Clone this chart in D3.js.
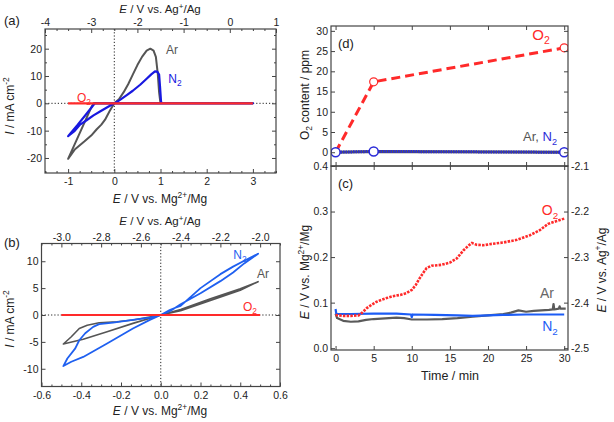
<!DOCTYPE html>
<html><head><meta charset="utf-8">
<script src="https://cdn.jsdelivr.net/npm/d3@7"></script>
<style>
body{margin:0;background:#fff;}
text{font-family:"Liberation Sans",Arial,Helvetica,sans-serif;}
</style></head><body>
<svg id="chart" width="614" height="422" xmlns="http://www.w3.org/2000/svg"></svg>
<script>
// ---------------- DATA ----------------
// Panel (a): CV, E vs Mg2+/Mg (V), I (mA cm-2)
const cvA_Ar = [[0,0],[0.1,1.5],[0.2,4],[0.3,7],[0.4,10.5],[0.5,14],[0.6,17],[0.7,19.3],[0.78,20],[0.85,19.3],[0.9,17],[0.94,11],[0.97,4],[1.0,0],[3.0,0],[-0.45,0],[-0.5,-1.6],[-0.6,-5.3],[-0.8,-12.8],[-1.0,-20.3],[-0.85,-16.8],[-0.65,-14],[-0.5,-11.8],[-0.38,-9.5],[-0.28,-7.8],[-0.2,-6],[-0.1,-2.8],[0,0]];
const cvA_N2 = [[0,0],[0.1,1],[0.27,3],[0.4,4.6],[0.56,6.8],[0.7,9],[0.8,10.6],[0.88,11.7],[0.93,11.6],[0.97,10.5],[0.99,6],[1.01,1],[1.02,0],[3.0,0],[-0.42,0],[-0.46,-0.8],[-0.6,-3.8],[-0.8,-8],[-1.0,-12],[-0.87,-10.3],[-0.74,-7.8],[-0.6,-6.2],[-0.45,-4.4],[-0.3,-2.9],[-0.17,-1.6],[0,0]];
const cvA_O2 = [[-1.0,0],[3.0,0]];
// Panel (b)
const cvB_N2 = [[0,0],[0.045,0.9],[0.07,1.3],[0.1,1.7],[0.2,5.0],[0.3,7.6],[0.364,9.0],[0.42,10.1],[0.49,11.4],[0.42,9.6],[0.364,7.9],[0.3,6.3],[0.2,4.05],[0.1,2.0],[0.05,0.8],[0,0],[-0.055,-0.5],[-0.14,-0.9],[-0.24,-1.4],[-0.31,-1.7],[-0.34,-2.2],[-0.38,-3.4],[-0.41,-4.7],[-0.43,-6.2],[-0.47,-8.1],[-0.49,-9.5],[-0.45,-8.7],[-0.39,-7.8],[-0.27,-5.3],[-0.14,-2.5],[-0.055,-0.9],[0,0]];
const cvB_Ar = [[0,0],[0.1,1.0],[0.25,3.0],[0.4,4.9],[0.49,6.2],[0.4,4.6],[0.25,2.7],[0.1,0.8],[0,0],[-0.14,-0.93],[-0.22,-1.25],[-0.31,-1.43],[-0.37,-1.9],[-0.41,-2.5],[-0.45,-4.05],[-0.49,-5.4],[-0.39,-4.5],[-0.27,-3.1],[-0.14,-1.56],[0,0]];
const cvB_O2 = [[-0.5,0],[0.5,0]];
// Panel (d): O2 content (ppm) vs time (min)
const dTimes = [0,5,30];
const dO2ppm = [0,17.4,25.8];
const dArN2ppm = [0,0.2,0];
// Panel (c): OCP (V vs Mg2+/Mg) vs time (min)
const cO2 = [[0,0.073],[0.5,0.072],[1,0.071],[2,0.071],[3,0.072],[3.5,0.078],[4.1,0.088],[4.8,0.096],[5.4,0.102],[6,0.106],[6.7,0.110],[7.5,0.114],[8.5,0.117],[9.3,0.121],[10,0.128],[10.5,0.138],[10.9,0.150],[11.4,0.163],[11.95,0.176],[12.6,0.181],[13.9,0.183],[15,0.188],[15.9,0.197],[16.8,0.215],[17.5,0.226],[17.9,0.231],[18.5,0.227],[19.4,0.226],[20.5,0.229],[22,0.232],[23.8,0.238],[25.5,0.248],[26.8,0.259],[27.9,0.273],[29,0.279],[30.1,0.285]];
const cN2 = [[0,0.086],[0.1,0.075],[2,0.075],[5,0.076],[8,0.076],[9.9,0.074],[10,0.068],[10.1,0.074],[13,0.073],[16,0.072],[18,0.071],[20,0.072],[22,0.073],[25,0.074],[28,0.074],[30,0.074]];
const cAr = [[0,0.076],[0.2,0.066],[1,0.060],[2,0.058],[3,0.059],[4,0.062],[5,0.064],[6,0.065],[7,0.066],[8,0.067],[9,0.066],[10,0.063],[12,0.063],[14,0.064],[16,0.066],[18,0.069],[20,0.072],[22,0.075],[23,0.078],[24,0.083],[25,0.080],[26,0.082],[27,0.083],[28,0.084],[28.5,0.085],[28.6,0.097],[28.7,0.085],[29.3,0.087],[29.4,0.092],[29.5,0.087],[30.2,0.087]];
// Tick labels
const aBottomTicks = [-1,0,1,2,3];
const aTopTicks = [-4,-3,-2,-1,0,1];
const aLeftTicks = [-20,-10,0,10,20];
const bBottomTicks = [-0.6,-0.4,-0.2,0.0,0.2,0.4,0.6];
const bTopTicks = [-3.0,-2.8,-2.6,-2.4,-2.2,-2.0];
const bLeftTicks = [-10,-5,0,5,10];
const dLeftTicks = [0,5,10,15,20,25,30];
const cBottomTicks = [0,5,10,15,20,25,30];
const cLeftTicks = [0.0,0.1,0.2,0.3,0.4];
const cRightTicks = [-2.5,-2.4,-2.3,-2.2,-2.1];

// ---------------- DRAW ----------------
const svg = d3.select("#chart");
const FONT = '"Liberation Sans", Arial, Helvetica, sans-serif';
const C = {ar:"#555555", n2a:"#1818e0", n2b:"#1f60f0", n2c:"#1c5cf5", red:"#ff2a2a", frame:"#444", txt:"#222", blueD:"#2a2ad8"};

function richText(parent, x, y, parts, o){
  const fs = o.size||12;
  const t = parent.append("text").attr("x",x).attr("y",y)
    .attr("text-anchor",o.anchor||"middle").attr("font-size",fs)
    .attr("fill",o.fill||C.txt).attr("font-family",FONT);
  if(o.rotate) t.attr("transform",`rotate(${o.rotate},${x},${y})`);
  let shift=0;
  parts.forEach(p=>{
    const s=t.append("tspan").text(p.t);
    const target = p.sup? -0.38*fs : (p.sub? 0.28*fs : 0);
    const dy = target-shift; shift=target;
    if(dy!==0) s.attr("dy",dy);
    if(p.sup||p.sub) s.attr("font-size",fs*0.7);
    if(p.it) s.attr("font-style","italic");
    if(p.fill) s.attr("fill",p.fill);
  });
  return t;
}
function ticks(g, scale, orient, pos, values, o){
  o=o||{};
  const gen={bottom:d3.axisBottom,top:d3.axisTop,left:d3.axisLeft,right:d3.axisRight}[orient](scale)
    .tickValues(values).tickSize(-(o.size||4)).tickPadding(o.pad||4)
    .tickFormat(o.labels? (d,i)=>o.labels[i] : ()=> "");
  const tr=(orient==="bottom"||orient==="top")?`translate(0,${pos})`:`translate(${pos},0)`;
  const a=g.append("g").attr("transform",tr).call(gen);
  a.select(".domain").remove();
  a.selectAll("line").attr("stroke",C.frame).attr("stroke-width",1);
  a.selectAll("text").attr("font-size",o.fs||10.5).attr("fill",C.txt).attr("font-family",FONT);
  return a;
}
function frame(g,x0,x1,y0,y1){
  g.append("rect").attr("x",x0).attr("y",y0).attr("width",x1-x0).attr("height",y1-y0)
   .attr("fill","none").attr("stroke",C.frame).attr("stroke-width",1.2);
}
function clip(id,x0,x1,y0,y1){
  svg.append("clipPath").attr("id",id).append("rect").attr("x",x0).attr("y",y0).attr("width",x1-x0).attr("height",y1-y0);
}
const dec=(n)=>(d)=>d.toFixed(n);
function minorVals(lo,hi,step,majors){
  const out=[];for(let v=lo;v<=hi+1e-9;v+=step){const r=Math.round(v*1000)/1000; if(!majors.some(m=>Math.abs(m-r)<1e-6)) out.push(r);}return out;
}

// ===== Panel (a) =====
{
  const X0=45,X1=276,Y0=29,Y1=173;
  const x=d3.scaleLinear().domain([-1.5,3.5]).range([X0,X1]);
  const xt=d3.scaleLinear().domain([-4,1]).range([X0,X1]);
  const y=d3.scaleLinear().domain([-25.5,27.2]).range([Y1,Y0]);
  const g=svg.append("g");
  clip("clipA",X0,X1,Y0,Y1);
  const pg=g.append("g").attr("clip-path","url(#clipA)");
  pg.append("line").attr("x1",X0).attr("x2",X1).attr("y1",y(0)).attr("y2",y(0)).attr("stroke","#222").attr("stroke-width",1).attr("stroke-dasharray","1.2,2");
  pg.append("line").attr("x1",x(0)).attr("x2",x(0)).attr("y1",Y0).attr("y2",Y1).attr("stroke","#222").attr("stroke-width",1).attr("stroke-dasharray","1.2,2");
  const line=d3.line().x(d=>x(d[0])).y(d=>y(d[1]));
  pg.append("path").attr("d",line(cvA_Ar)).attr("fill","none").attr("stroke",C.ar).attr("stroke-width",2).attr("stroke-linejoin","round");
  pg.append("path").attr("d",line(cvA_N2)).attr("fill","none").attr("stroke",C.n2a).attr("stroke-width",2.2).attr("stroke-linejoin","round");
  pg.append("path").attr("d",line(cvA_O2)).attr("fill","none").attr("stroke",C.red).attr("stroke-width",2.2);
  frame(g,X0,X1,Y0,Y1);
  ticks(g,x,"bottom",Y1,aBottomTicks,{labels:aBottomTicks.map(String),pad:5});
  ticks(g,x,"bottom",Y1,minorVals(-1.5,3.5,0.25,aBottomTicks),{size:2});
  ticks(g,xt,"top",Y0,aTopTicks,{labels:aTopTicks.map(String),pad:3});
  ticks(g,xt,"top",Y0,minorVals(-4,1,0.25,aTopTicks),{size:2});
  ticks(g,y,"left",X0,aLeftTicks,{labels:aLeftTicks.map(String),pad:3});
  ticks(g,y,"left",X0,minorVals(-25,25,5,aLeftTicks),{size:2});
  ticks(g,y,"right",X1,aLeftTicks,{});
  ticks(g,y,"right",X1,minorVals(-25,25,5,aLeftTicks),{size:2});
  g.append("text").attr("x",4).attr("y",25).attr("font-size",13).attr("fill",C.txt).text("(a)");
  richText(g,160,13,[{t:"E",it:1},{t:" / V vs. Ag"},{t:"+",sup:1},{t:"/Ag"}],{size:11.5});
  richText(g,160,203,[{t:"E",it:1},{t:" / V vs. Mg"},{t:"2+",sup:1},{t:"/Mg"}],{size:12});
  richText(g,14,106,[{t:"I",it:1},{t:" / mA cm"},{t:"-2",sup:1}],{size:12,rotate:-90});
  richText(g,172,54,[{t:"Ar"}],{size:12,fill:C.ar});
  richText(g,175,83,[{t:"N"},{t:"2",sub:1}],{size:12,fill:C.n2a});
  richText(g,84,102,[{t:"O"},{t:"2",sub:1}],{size:12,fill:C.red});
}

// ===== Panel (b) =====
{
  const X0=41.5,X1=280,Y0=243.5,Y1=386.5;
  const x=d3.scaleLinear().domain([-0.6,0.6]).range([X0,X1]);
  const xt=d3.scaleLinear().domain([-3.1,-1.9]).range([X0,X1]);
  const y=d3.scaleLinear().domain([-13.3,13.3]).range([Y1,Y0]);
  const g=svg.append("g");
  clip("clipB",X0,X1,Y0,Y1);
  const pg=g.append("g").attr("clip-path","url(#clipB)");
  pg.append("line").attr("x1",X0).attr("x2",X1).attr("y1",y(0)).attr("y2",y(0)).attr("stroke","#222").attr("stroke-width",1).attr("stroke-dasharray","1.2,2");
  pg.append("line").attr("x1",x(0)).attr("x2",x(0)).attr("y1",Y0).attr("y2",Y1).attr("stroke","#222").attr("stroke-width",1).attr("stroke-dasharray","1.2,2");
  const line=d3.line().x(d=>x(d[0])).y(d=>y(d[1]));
  pg.append("path").attr("d",line(cvB_Ar)).attr("fill","none").attr("stroke",C.ar).attr("stroke-width",1.6).attr("stroke-linejoin","round");
  pg.append("path").attr("d",line(cvB_N2)).attr("fill","none").attr("stroke",C.n2b).attr("stroke-width",1.8).attr("stroke-linejoin","round");
  pg.append("path").attr("d",line(cvB_O2)).attr("fill","none").attr("stroke",C.red).attr("stroke-width",2);
  frame(g,X0,X1,Y0,Y1);
  ticks(g,x,"bottom",Y1,bBottomTicks,{labels:bBottomTicks.map(dec(1)),pad:5});
  ticks(g,x,"bottom",Y1,minorVals(-0.6,0.6,0.05,bBottomTicks),{size:2});
  ticks(g,xt,"top",Y0,bTopTicks,{labels:bTopTicks.map(dec(1)),pad:3});
  ticks(g,xt,"top",Y0,minorVals(-3.1,-1.9,0.05,bTopTicks),{size:2});
  ticks(g,y,"left",X0,bLeftTicks,{labels:bLeftTicks.map(String),pad:3});
  ticks(g,y,"right",X1,bLeftTicks,{});
  g.append("text").attr("x",4).attr("y",247).attr("font-size",13).attr("fill",C.txt).text("(b)");
  richText(g,160,225,[{t:"E",it:1},{t:" / V vs. Ag"},{t:"+",sup:1},{t:"/Ag"}],{size:11.5});
  richText(g,160,415,[{t:"E",it:1},{t:" / V vs. Mg"},{t:"2+",sup:1},{t:"/Mg"}],{size:12});
  richText(g,14,319,[{t:"I",it:1},{t:" / mA cm"},{t:"-2",sup:1}],{size:12,rotate:-90});
  richText(g,240,259,[{t:"N"},{t:"2",sub:1}],{size:12,fill:C.n2b});
  richText(g,263,278,[{t:"Ar"}],{size:12,fill:C.ar});
  richText(g,250,311,[{t:"O"},{t:"2",sub:1}],{size:12,fill:C.red});
}

// ===== Panel (d) =====
const X0r=331,X1r=568;
const tx=d3.scaleLinear().domain([-0.6,30.5]).range([X0r,X1r]);
{
  const Y0=26,Y1=166;
  const y=d3.scaleLinear().domain([-3.4,31.2]).range([Y1,Y0]);
  const g=svg.append("g");
  clip("clipD",X0r,X1r,Y0,Y1);
  const pg=g.append("g").attr("clip-path","url(#clipD)");
  const line=d3.line().x((d,i)=>tx(dTimes[i])).y(d=>y(d));
  pg.append("path").attr("d",line(dArN2ppm)).attr("fill","none").attr("stroke","#555").attr("stroke-width",3);
  pg.append("path").attr("d",line(dArN2ppm)).attr("fill","none").attr("stroke",C.blueD).attr("stroke-width",3).attr("stroke-dasharray","1.5,1");
  pg.append("path").attr("d",line(dO2ppm)).attr("fill","none").attr("stroke",C.red).attr("stroke-width",3).attr("stroke-dasharray","9,5");
  pg.selectAll("circle.o2").data(dO2ppm).enter().append("circle").attr("cx",(d,i)=>tx(dTimes[i])).attr("cy",d=>y(d)).attr("r",4).attr("fill","#fff").attr("stroke",C.red).attr("stroke-width",1.2);
  pg.selectAll("circle.n2").data(dArN2ppm).enter().append("circle").attr("cx",(d,i)=>tx(dTimes[i])).attr("cy",d=>y(d)).attr("r",4.5).attr("fill","#fff").attr("stroke",C.blueD).attr("stroke-width",1.5);
  frame(g,X0r,X1r,Y0,Y1);
  ticks(g,y,"left",X0r,dLeftTicks,{labels:dLeftTicks.map(String),pad:3});
  ticks(g,y,"right",X1r,dLeftTicks,{});
  ticks(g,tx,"top",Y0,cBottomTicks,{});
  ticks(g,tx,"bottom",Y1,cBottomTicks,{});
  g.append("text").attr("x",338).attr("y",48).attr("font-size",13).attr("fill",C.txt).text("(d)");
  richText(g,309,95,[{t:"O"},{t:"2",sub:1},{t:" content / ppm"}],{size:12,rotate:-90});
  richText(g,541,40,[{t:"O"},{t:"2",sub:1}],{size:15,fill:C.red});
  richText(g,540,141,[{t:"Ar, ",fill:C.ar},{t:"N",fill:C.blueD},{t:"2",sub:1,fill:C.blueD}],{size:13});
}

// ===== Panel (c) =====
{
  const Y0=166,Y1=350;
  const y=d3.scaleLinear().domain([-0.004,0.4]).range([Y1,Y0]);
  const yr=d3.scaleLinear().domain([-2.504,-2.1]).range([Y1,Y0]);
  const g=svg.append("g");
  clip("clipC",X0r,X1r,Y0,Y1);
  const pg=g.append("g").attr("clip-path","url(#clipC)");
  const line=d3.line().x(d=>tx(d[0])).y(d=>y(d[1]));
  pg.append("path").attr("d",line(cAr)).attr("fill","none").attr("stroke","#5a5a5a").attr("stroke-width",2.2).attr("stroke-linejoin","round");
  pg.append("path").attr("d",line(cN2)).attr("fill","none").attr("stroke",C.n2c).attr("stroke-width",2.2).attr("stroke-linejoin","round");
  pg.append("path").attr("d",line(cO2)).attr("fill","none").attr("stroke",C.red).attr("stroke-width",2.6).attr("stroke-dasharray","2.5,1.2");
  frame(g,X0r,X1r,Y0,Y1);
  ticks(g,tx,"bottom",Y1,cBottomTicks,{labels:cBottomTicks.map(String),pad:5});
  ticks(g,tx,"top",Y0,cBottomTicks,{});
  ticks(g,y,"left",X0r,cLeftTicks,{labels:cLeftTicks.map(dec(1)),pad:3});
  ticks(g,yr,"right",X1r,cRightTicks,{labels:cRightTicks.map(dec(1)),pad:3});
  g.append("text").attr("x",338).attr("y",188).attr("font-size",13).attr("fill",C.txt).text("(c)");
  richText(g,450,380,[{t:"Time / min"}],{size:12.5});
  richText(g,309,272,[{t:"E",it:1},{t:" / V vs. Mg"},{t:"2+",sup:1},{t:"/Mg"}],{size:12,rotate:-90});
  richText(g,606,270,[{t:"E",it:1},{t:" / V vs. Ag"},{t:"+",sup:1},{t:"/Ag"}],{size:12,rotate:-90});
  richText(g,550,215,[{t:"O"},{t:"2",sub:1}],{size:14,fill:C.red});
  richText(g,547,298,[{t:"Ar"}],{size:14,fill:"#666"});
  richText(g,550,331,[{t:"N"},{t:"2",sub:1}],{size:14,fill:C.n2c});
}
</script>
</body></html>
